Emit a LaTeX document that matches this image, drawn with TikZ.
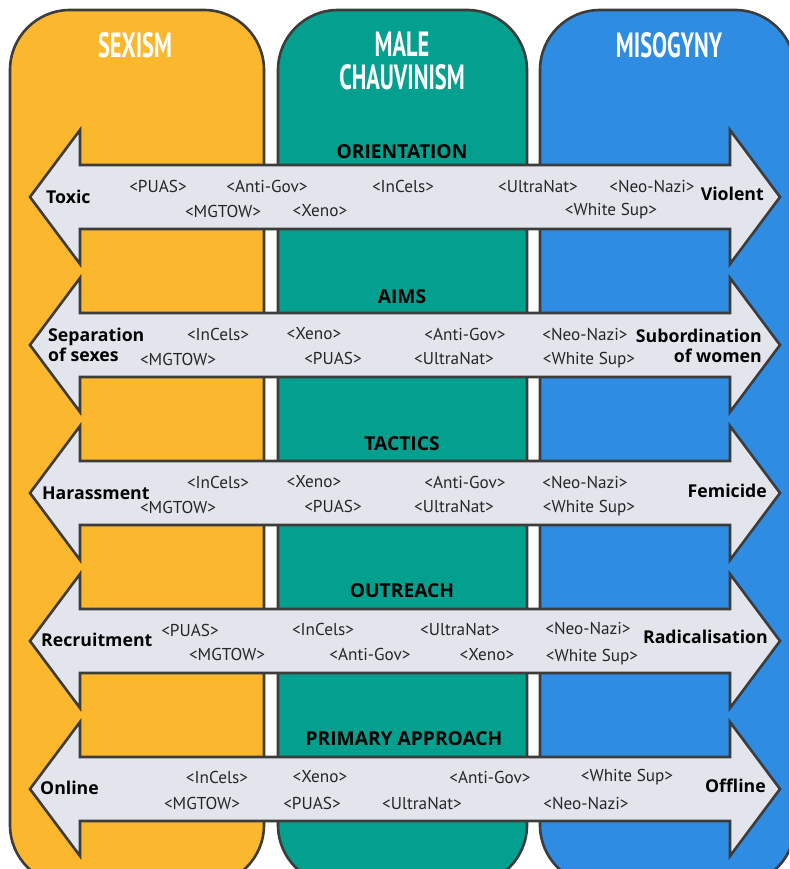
\documentclass[tikz,border=0pt]{standalone}
\usepackage{fontspec}
\setmainfont{PT Sans}
\newfontfamily\titlefont[FakeStretch=0.64]{PT Sans}
\newfontfamily\boldfont{Open Sans}
\definecolor{colyellow}{HTML}{FBB72D}
\definecolor{colteal}{HTML}{04A08F}
\definecolor{colblue}{HTML}{2E8CE2}
\definecolor{colarrow}{HTML}{E2E5EC}
\definecolor{colline}{HTML}{3C3C3C}
\tikzset{
  column/.style={draw=colline, line width=2.6pt, rounded corners=60pt},
  bigarrow/.style={draw=colline, fill=colarrow, line width=2.6pt, line join=miter},
  tag/.style={inner sep=0pt, font=\fontsize{17.2}{18}\selectfont, text=black!85},
  side/.style={inner sep=0pt, font=\boldfont\bfseries\fontsize{17.7}{20}\selectfont},
  rowtitle/.style={inner sep=0pt, font=\boldfont\bfseries\fontsize{19.2}{21}\selectfont},
  coltitle/.style={inner sep=0pt, text=white, align=center, font=\titlefont\bfseries\fontsize{35}{33}\selectfont}
}
\begin{document}
\begin{tikzpicture}[x=1pt,y=-1pt]
\useasboundingbox (0,0) rectangle (789,869);
\clip (0,0) rectangle (789,869);
% columns
\draw[column, fill=colyellow] (10,10) rectangle (264,885);
\draw[column, fill=colteal] (278,10) rectangle (527,885);
\draw[column, fill=colblue] (540,10) rectangle (795,885);
\node[coltitle] (t1) at (135,45) {SEXISM};
\node[coltitle] (t2) at (402,61) {MALE\\CHAUVINISM};
\node[coltitle] (t3) at (669,45) {MISOGYNY};
% arrows
\foreach \c in {197,345,493,641,789}{
  \draw[bigarrow] (80,\c-32) -- (730,\c-32) -- (730,\c-67) -- (780,\c) -- (730,\c+67)
     -- (730,\c+32) -- (80,\c+32) -- (80,\c+67) -- (30,\c) -- (80,\c-67) -- cycle;
}
% row titles
\node[rowtitle] (r1) at (402,152) {ORIENTATION};
\node[rowtitle] (r2) at (402,297) {AIMS};
\node[rowtitle] (r3) at (402,444) {TACTICS};
\node[rowtitle] (r4) at (402,591) {OUTREACH};
\node[rowtitle] (r5) at (404,739) {PRIMARY APPROACH};
% row 1
\node[side, anchor=west] (s1l) at (46,197) {Toxic};
\node[side, anchor=east] (s1r) at (764,194) {Violent};
\node[tag] (a1) at (158,186) {<PUAS>};
\node[tag] (a2) at (267,186) {<Anti-Gov>};
\node[tag] (a3) at (403,186) {<InCels>};
\node[tag] (a4) at (538,186) {<UltraNat>};
\node[tag] (a5) at (652,186) {<Neo-Nazi>};
\node[tag] (a6) at (223,211) {<MGTOW>};
\node[tag] (a7) at (320,211) {<Xeno>};
\node[tag] (a8) at (611,211) {<White Sup>};
% row 2
\node[side, anchor=west, align=left] (s2l) at (48,345) {Separation\\of sexes};
\node[side, anchor=east, align=right] (s2r) at (762,346) {Subordination\\of women};
\node[tag] (b1) at (218,334) {<InCels>};
\node[tag] (b2) at (314,334) {<Xeno>};
\node[tag] (b3) at (465,334) {<Anti-Gov>};
\node[tag] (b4) at (585,334) {<Neo-Nazi>};
\node[tag] (b5) at (178,359) {<MGTOW>};
\node[tag] (b6) at (333,358) {<PUAS>};
\node[tag] (b7) at (454,358) {<UltraNat>};
\node[tag] (b8) at (589,360) {<White Sup>};
% row 3
\node[side, anchor=west] (s3l) at (42,493) {Harassment};
\node[side, anchor=east] (s3r) at (767,491) {Femicide};
\node[tag] (c1) at (218,482) {<InCels>};
\node[tag] (c2) at (314,482) {<Xeno>};
\node[tag] (c3) at (465,482) {<Anti-Gov>};
\node[tag] (c4) at (585,482) {<Neo-Nazi>};
\node[tag] (c5) at (178,507) {<MGTOW>};
\node[tag] (c6) at (333,506) {<PUAS>};
\node[tag] (c7) at (454,506) {<UltraNat>};
\node[tag] (c8) at (589,508) {<White Sup>};
% row 4
\node[side, anchor=west] (s4l) at (41,640) {Recruitment};
\node[side, anchor=east] (s4r) at (768,637) {Radicalisation};
\node[tag] (d1) at (190,630) {<PUAS>};
\node[tag] (d2) at (323,629) {<InCels>};
\node[tag] (d3) at (460,629) {<UltraNat>};
\node[tag] (d4) at (588,628) {<Neo-Nazi>};
\node[tag] (d5) at (227,654) {<MGTOW>};
\node[tag] (d6) at (370,654) {<Anti-Gov>};
\node[tag] (d7) at (487,655) {<Xeno>};
\node[tag] (d8) at (592,657) {<White Sup>};
% row 5
\node[side, anchor=west] (s5l) at (40,788) {Online};
\node[side, anchor=east] (s5r) at (766,786) {Offline};
\node[tag] (e1) at (217,777) {<InCels>};
\node[tag] (e2) at (320,777) {<Xeno>};
\node[tag] (e3) at (490,777) {<Anti-Gov>};
\node[tag] (e4) at (627,777) {<White Sup>};
\node[tag] (e5) at (202,803) {<MGTOW>};
\node[tag] (e6) at (312,803) {<PUAS>};
\node[tag] (e7) at (422,803) {<UltraNat>};
\node[tag] (e8) at (586,803) {<Neo-Nazi>};
\end{tikzpicture}
\end{document}
